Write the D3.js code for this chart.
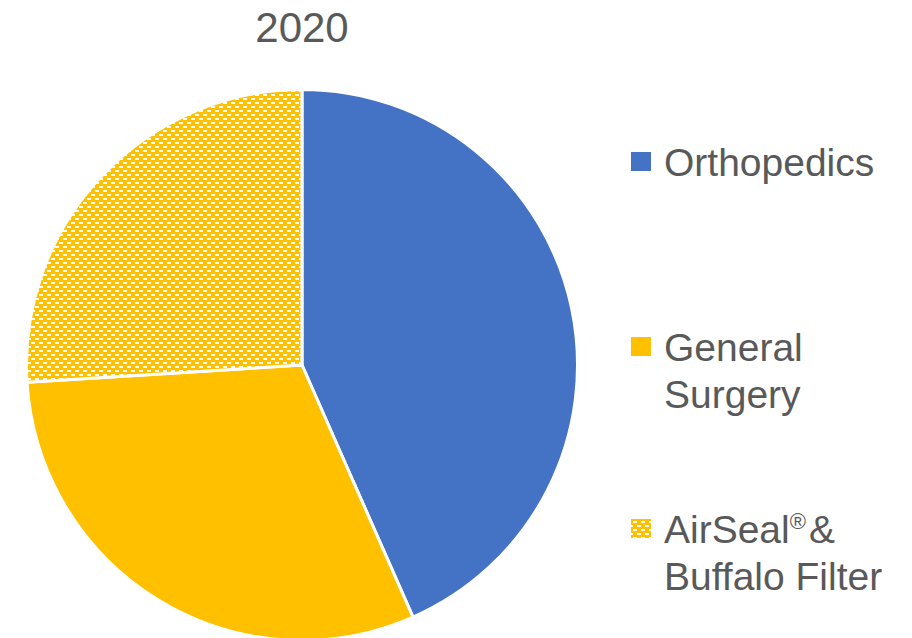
<!DOCTYPE html>
<html>
<head>
<meta charset="utf-8">
<script src="https://cdn.jsdelivr.net/npm/d3@7"></script>
<style>
  body { margin: 0; background: #fff; }
  svg { display: block; }
  text { font-family: "Liberation Sans", Arial, sans-serif; fill: #595959; }
</style>
</head>
<body>
<svg id="chart" width="912" height="638"></svg>
<script>
// data
const title = "2020"
const categories = ["Orthopedics", "General Surgery", "AirSeal & Buffalo Filter"]
const values = [43.4, 30.6, 26.0]
const legendLines = [["Orthopedics"], ["General", "Surgery"], ["AirSeal", "Buffalo Filter"]]

const svg = d3.select("#chart")

// brick pattern for the third slice
const defs = svg.append("defs")
const pat = defs.append("pattern").attr("id", "brick")
  .attr("patternUnits", "userSpaceOnUse")
  .attr("width", 8).attr("height", 8)
pat.append("rect").attr("width", 8).attr("height", 8).attr("fill", "#FFC000")
pat.append("rect").attr("x", 1).attr("y", 1).attr("width", 4).attr("height", 2).attr("fill", "#fff")
pat.append("rect").attr("x", 5).attr("y", 5).attr("width", 4).attr("height", 2).attr("fill", "#fff")
pat.append("rect").attr("x", -3).attr("y", 5).attr("width", 4).attr("height", 2).attr("fill", "#fff")

const color = d3.scaleOrdinal().domain(categories).range(["#4472C4", "#FFC000", "url(#brick)"])

const cx = 302, cy = 365, r = 275.5

const pie = d3.pie().sort(null).value(d => d.value)
const arc = d3.arc().innerRadius(0).outerRadius(r)
const data = categories.map((c, i) => ({cat: c, value: values[i]}))

svg.append("g").attr("transform", `translate(${cx},${cy})`)
  .selectAll("path").data(pie(data)).join("path")
  .attr("d", arc)
  .attr("fill", d => color(d.data.cat))
  .attr("stroke", "#fff")
  .attr("stroke-width", 3)
  .attr("stroke-linejoin", "round")

svg.append("text").attr("x", cx).attr("y", 42)
  .attr("text-anchor", "middle").attr("font-size", 42)
  .text(title)

// legend
const legendTop = [152, 337, 519]
const lg = svg.append("g")
categories.forEach((c, i) => {
  lg.append("rect").attr("x", 631).attr("y", legendTop[i])
    .attr("width", 20).attr("height", 19)
    .attr("fill", color(c))
  legendLines[i].forEach((line, j) => {
    const t = lg.append("text").attr("x", 664).attr("y", legendTop[i] + 24 + j * 47)
      .attr("font-size", 39)
    if (i == 2 && j == 0) {
      t.text(line)
      t.append("tspan").attr("font-size", 22).attr("dy", -14).text("®")
      t.append("tspan").attr("dy", 14).attr("dx", 3).text("&")
    } else {
      t.text(line)
    }
  })
})
</script>
</body>
</html>
